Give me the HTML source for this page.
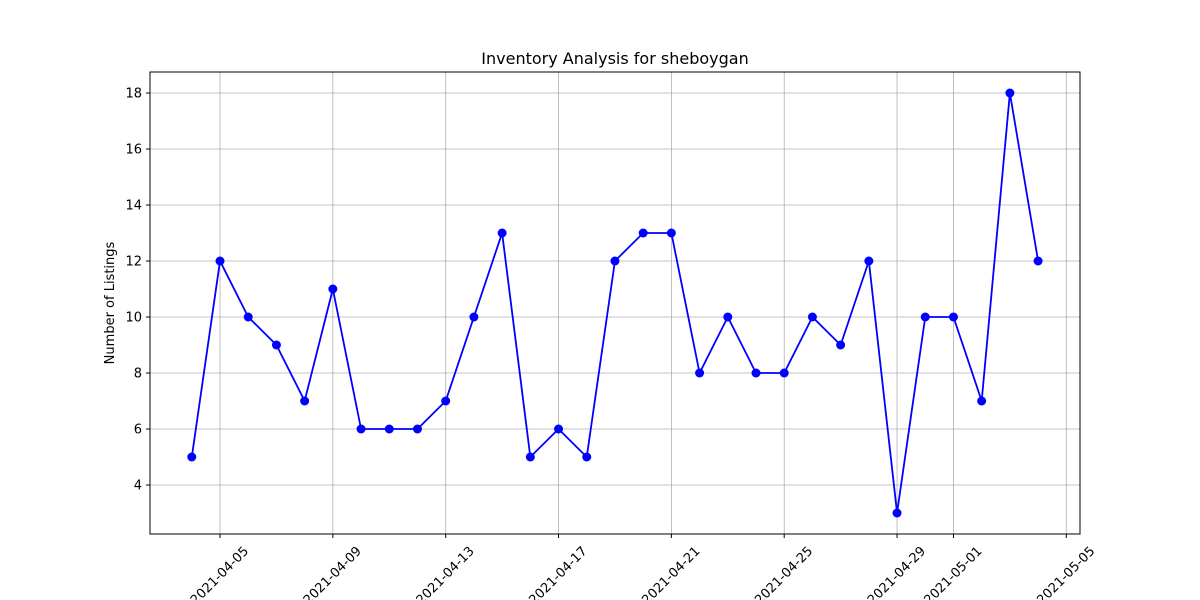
<!DOCTYPE html>
<html><head><meta charset="utf-8"><style>body{margin:0;background:#fff}svg{display:block;font-family:"DejaVu Sans","Liberation Sans",sans-serif}</style></head>
<body>
<svg width="1200" height="600">
<rect width="1200" height="600" fill="#fff"/>
<g id="grid"></g><g id="ticks"></g><g id="series"></g>
<rect x="150" y="72" width="930" height="462" fill="none" stroke="#000" stroke-width="1"/>
<text x="615" y="64" text-anchor="middle" font-size="16">Inventory Analysis for sheboygan</text>
<text transform="translate(114,303) rotate(-90)" text-anchor="middle" font-size="13">Number of Listings</text>
</svg>
<script>
const values=[5,12,10,9,7,11,6,6,6,7,10,13,5,6,5,12,13,13,8,10,8,8,10,9,12,3,10,10,7,18,12];
const xTickDays=[1,5,9,13,17,21,25,27,31];
const xTickLabels=["2021-04-05","2021-04-09","2021-04-13","2021-04-17","2021-04-21","2021-04-25","2021-04-29","2021-05-01","2021-05-05"];
const yTicks=[4,6,8,10,12,14,16,18];
const NS="http://www.w3.org/2000/svg";
const xs=d=>191.8+d*28.21;
const ys=v=>485-(v-4)*28;
function mk(tag,attrs,parent){const e=document.createElementNS(NS,tag);for(const k in attrs)e.setAttribute(k,attrs[k]);document.getElementById(parent).appendChild(e);return e;}
yTicks.forEach(v=>{
 const l=mk('line',{x1:150,x2:1080,y1:ys(v),y2:ys(v),stroke:'#b0b0b0','stroke-width':0.8},'grid');
 
 
 mk('line',{x1:146,x2:150,y1:ys(v),y2:ys(v),stroke:'#000'},'ticks');
 const t=mk('text',{x:142,y:ys(v)+4.5,'text-anchor':'end','font-size':13},'ticks');
 t.textContent=v;
 
 
});
xTickDays.forEach((d,i)=>{
 const x=xs(d);
 const l=mk('line',{x1:x,x2:x,y1:72,y2:534,stroke:'#b0b0b0','stroke-width':0.8},'grid');
 
 
 mk('line',{x1:x,x2:x,y1:534,y2:538,stroke:'#000'},'ticks');
 const t=mk('text',{transform:`translate(${x},576) rotate(-45)`,'text-anchor':'middle','dominant-baseline':'central','font-size':13},'ticks');
 t.textContent=xTickLabels[i];
 
 
});
const pts=values.map((v,i)=>xs(i)+','+ys(v)).join(' ');
const pl=mk('polyline',{points:pts,fill:'none',stroke:'#0000ff','stroke-width':1.8},'series');


values.forEach((v,i)=>{
 const c=mk('circle',{cx:xs(i),cy:ys(v),r:4.5,fill:'#0000ff'},'series');
 
 
});
</script>
</body></html>
